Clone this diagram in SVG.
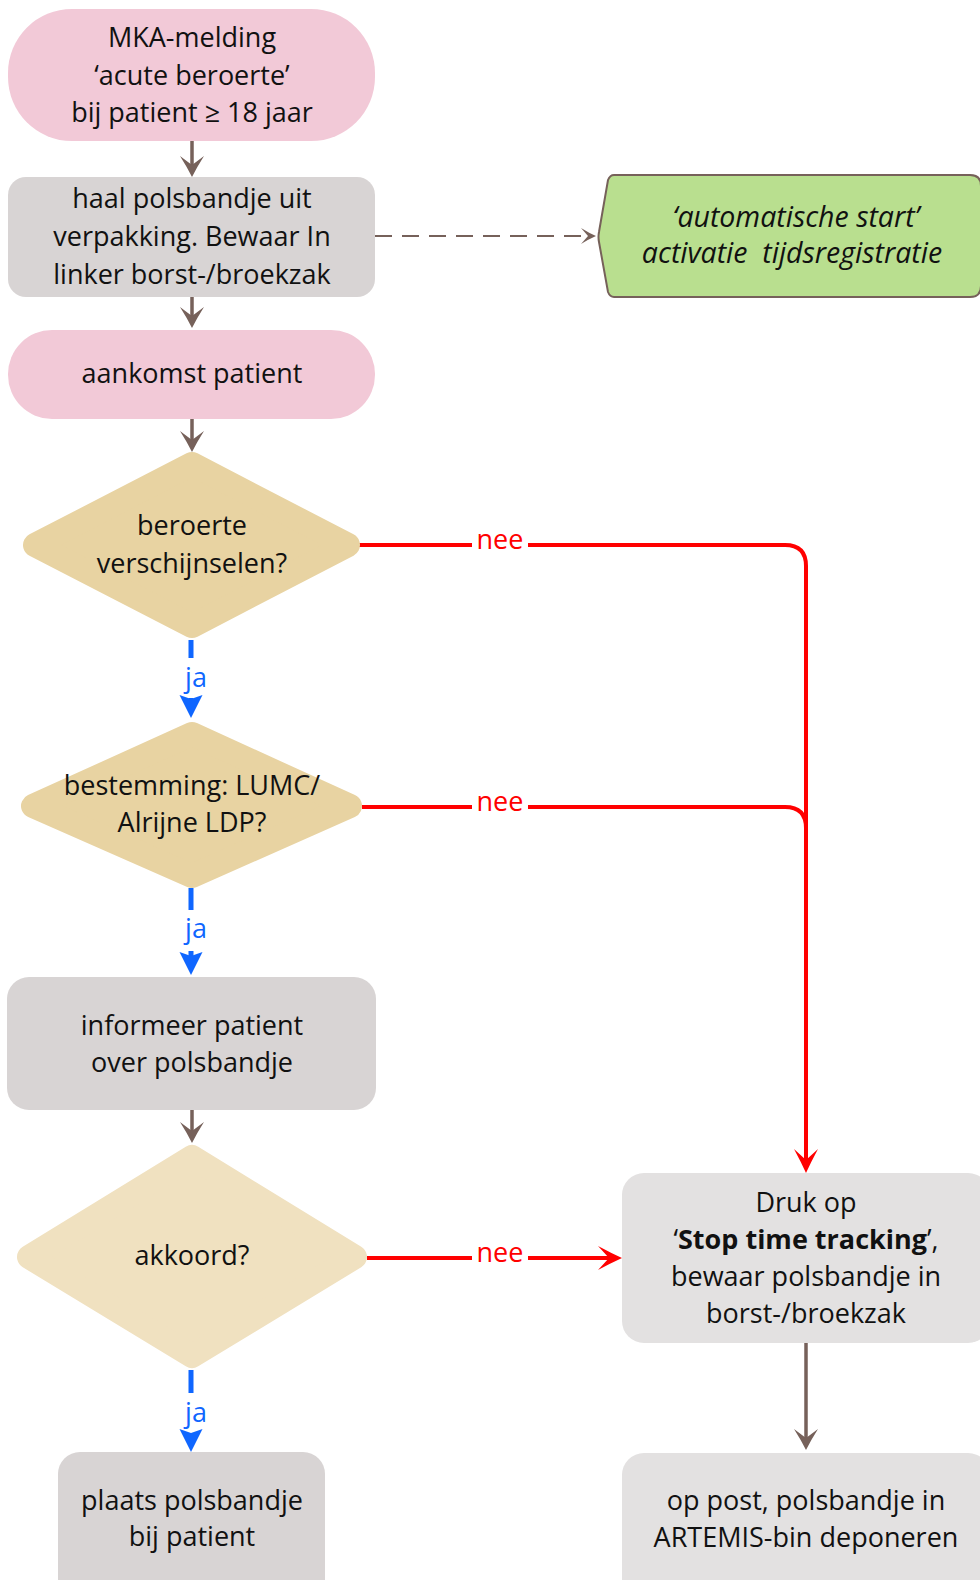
<svg xmlns="http://www.w3.org/2000/svg" width="980" height="1580" viewBox="0 0 980 1580">
<defs>
<style>
.t{font-family:"Open Sans","Liberation Sans",sans-serif;font-size:27px;fill:#111;text-anchor:middle}
.it{font-style:italic;white-space:pre;font-size:28.5px}
.b{font-weight:bold}
.pink{fill:#f2c9d7}
.gray{fill:#d8d4d4}
.lgray{fill:#e3e1e1}
.dia{fill:#e8d3a2;stroke:#e8d3a2;stroke-width:24;stroke-linejoin:round}
.dia3{fill:#f0e1c0;stroke:#f0e1c0;stroke-width:24;stroke-linejoin:round}
.brown{fill:none;stroke:#76615a;stroke-width:3.5}
.dash{fill:none;stroke:#76615a;stroke-width:2;stroke-dasharray:17 10}
.red{fill:none;stroke:#ff0000;stroke-width:4}
.blue{fill:none;stroke:#0f66ff;stroke-width:5}
.nee{font-family:"Open Sans","Liberation Sans",sans-serif;font-size:27px;fill:#ff0000;text-anchor:middle}
.ja{font-family:"Open Sans","Liberation Sans",sans-serif;font-size:27px;fill:#0f66ff;text-anchor:middle}
</style>
<marker id="mb" markerUnits="userSpaceOnUse" orient="auto" refX="-10" refY="0" markerWidth="30" markerHeight="30" overflow="visible"><path d="M0,0 Q-10,-5 -21,-12 L-12,0 L-21,12 Q-10,5 0,0 Z" fill="#76615a"/></marker>
<marker id="mbs" markerUnits="userSpaceOnUse" orient="auto" refX="-7" refY="0" markerWidth="20" markerHeight="20" overflow="visible"><path d="M0,0 Q-7,-3 -15,-8 L-8,0 L-15,8 Q-7,3 0,0 Z" fill="#76615a"/></marker>
<marker id="mr" markerUnits="userSpaceOnUse" orient="auto" refX="-10" refY="0" markerWidth="30" markerHeight="30" overflow="visible"><path d="M0,0 Q-11,-5 -24,-12 L-13,0 L-24,12 Q-11,5 0,0 Z" fill="#ff0000"/></marker>
<marker id="mbl" markerUnits="userSpaceOnUse" orient="auto" refX="-10" refY="0" markerWidth="30" markerHeight="30" overflow="visible"><path d="M0,0 L-23,-11.5 L-19,0 L-23,11.5 Z" fill="#0f66ff"/></marker>
</defs>
<rect width="980" height="1580" fill="#ffffff"/>

<g id="connectors">
<path class="brown" d="M192,141 V167" marker-end="url(#mb)"/>
<path class="brown" d="M192,297 V318" marker-end="url(#mb)"/>
<path class="brown" d="M192,419 V442" marker-end="url(#mb)"/>
<path class="brown" d="M192,1110 V1133" marker-end="url(#mb)"/>
<path class="brown" d="M806,1343 V1440" marker-end="url(#mb)"/>
<path class="dash" d="M375,236 H589" marker-end="url(#mbs)"/>
<path class="red" d="M358,545 H785 Q806,545 806,566 V1163" marker-end="url(#mr)"/>
<path class="red" d="M362,807 H785 Q806,807 806,828"/>
<path class="red" d="M367,1258 H612" marker-end="url(#mr)"/>
<rect x="472" y="525" width="56" height="34" fill="#ffffff"/>
<text class="nee" x="500" y="549">nee</text>
<rect x="472" y="787" width="56" height="34" fill="#ffffff"/>
<text class="nee" x="500" y="811">nee</text>
<rect x="472" y="1238" width="56" height="34" fill="#ffffff"/>
<text class="nee" x="500" y="1262">nee</text>
<path class="blue" d="M191,640 V708" stroke-dasharray="18 40 40" marker-end="url(#mbl)"/>
<text class="ja" x="196" y="687">ja</text>
<path class="blue" d="M191,888 V965" stroke-dasharray="22 41 40" marker-end="url(#mbl)"/>
<text class="ja" x="196" y="938">ja</text>
<path class="blue" d="M191,1370 V1442" stroke-dasharray="23 40 40" marker-end="url(#mbl)"/>
<text class="ja" x="196" y="1422">ja</text>
</g>

<g id="n1">
<rect class="pink" x="8" y="9" width="367" height="132" rx="64"/>
<text class="t" x="192" y="47">MKA-melding</text>
<text class="t" x="192" y="85">‘acute beroerte’</text>
<text class="t" x="192" y="122">bij patient ≥ 18 jaar</text>
</g>

<g id="n2">
<rect class="gray" x="8" y="177" width="367" height="120" rx="18"/>
<text class="t" x="192" y="208">haal polsbandje uit</text>
<text class="t" x="192" y="246">verpakking. Bewaar In</text>
<text class="t" x="192" y="284">linker borst-/broekzak</text>
</g>

<g id="n_green">
<path d="M614,175 H970 Q981,175 981,186 V286 Q981,297 970,297 H614 Q610,297 608,292 L599,242 Q598,237 599,232 L608,180 Q610,175 614,175 Z" fill="#b9df8f" stroke="#76615a" stroke-width="2"/>
<text class="t it" x="796" y="227">‘automatische start’</text>
<text class="t it" x="792" y="263">activatie  tijdsregistratie</text>
</g>

<g id="n3">
<rect class="pink" x="8" y="330" width="367" height="89" rx="44"/>
<text class="t" x="192" y="383">aankomst patient</text>
</g>

<g id="d1">
<polygon class="dia" points="192,464 348,545 192,626 35,545"/>
<text class="t" x="192" y="535">beroerte</text>
<text class="t" x="192" y="573">verschijnselen?</text>
</g>

<g id="d2">
<polygon class="dia" points="192,734 350,806 192,876 33,806"/>
<text class="t" x="192" y="795">bestemming: LUMC/</text>
<text class="t" x="192" y="832">Alrijne LDP?</text>
</g>

<g id="n4">
<rect class="gray" x="7" y="977" width="369" height="133" rx="22"/>
<text class="t" x="192" y="1035">informeer patient</text>
<text class="t" x="192" y="1072">over polsbandje</text>
</g>

<g id="d3">
<polygon class="dia3" points="192,1157 355,1257 192,1356 29,1257"/>
<text class="t" x="192" y="1265">akkoord?</text>
</g>

<g id="n5">
<rect class="gray" x="58" y="1452" width="267" height="150" rx="22"/>
<text class="t" x="192" y="1510">plaats polsbandje</text>
<text class="t" x="192" y="1546">bij patient</text>
</g>

<g id="n6">
<rect class="lgray" x="622" y="1173" width="368" height="170" rx="22"/>
<text class="t" x="806" y="1212">Druk op</text>
<text class="t" x="806" y="1249">‘<tspan class="b">Stop time tracking</tspan>’,</text>
<text class="t" x="806" y="1286">bewaar polsbandje in</text>
<text class="t" x="806" y="1323">borst-/broekzak</text>
</g>

<g id="n7">
<rect class="lgray" x="622" y="1453" width="368" height="150" rx="22"/>
<text class="t" x="806" y="1510">op post, polsbandje in</text>
<text class="t" x="806" y="1547">ARTEMIS-bin deponeren</text>
</g>
</svg>
